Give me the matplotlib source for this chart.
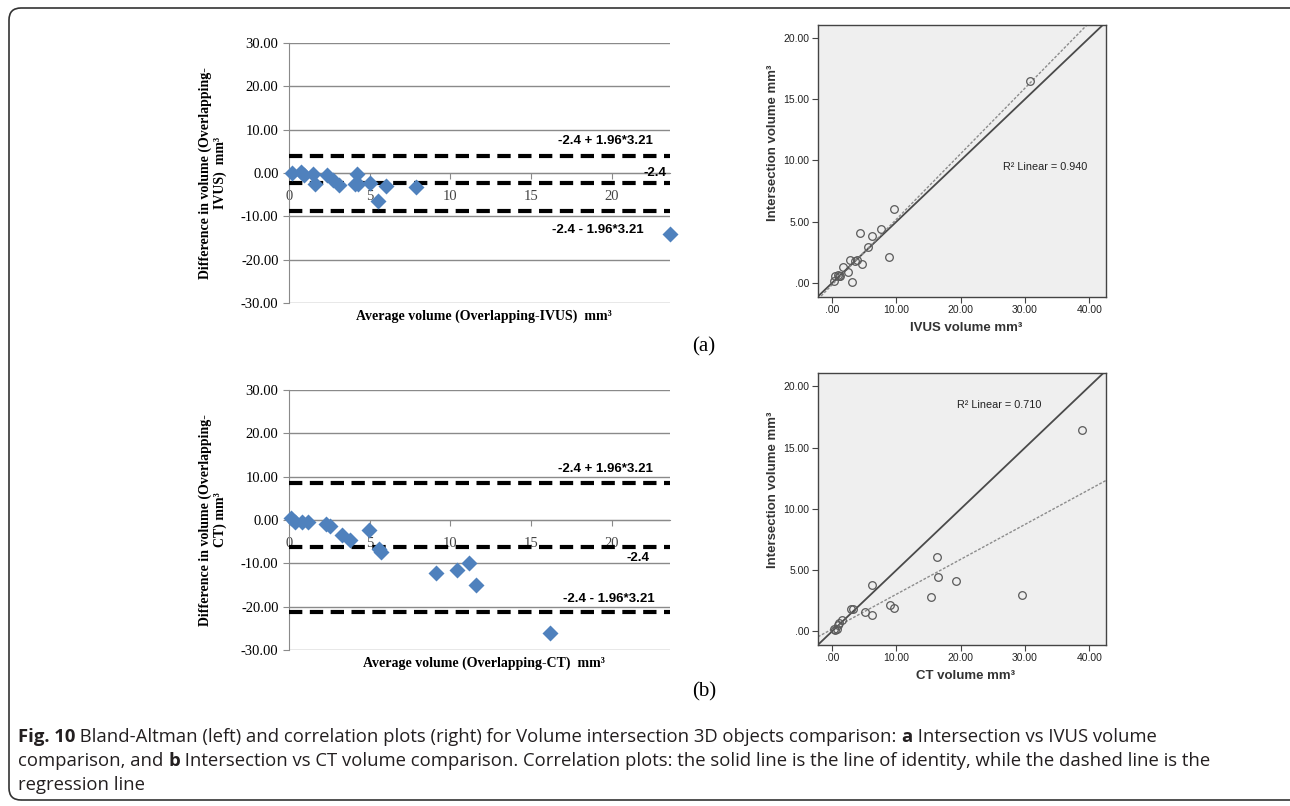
import matplotlib.pyplot as plt
from matplotlib.patches import FancyBboxPatch
from matplotlib.transforms import IdentityTransform

# ---- data ----
# Bland-Altman (a): Overlapping - IVUS
ivus_avg = [0.2, 0.76, 0.9, 1.5, 1.6, 2.35, 2.7, 3.1, 4.1, 4.2, 4.3, 5.0, 5.5, 6.0, 7.85, 23.6]
ivus_diff = [0.0, 0.15, -0.5, -0.15, -2.6, -0.5, -1.5, -2.8, -2.5, -0.15, -2.6, -2.2, -6.5, -3.0, -3.3, -14.1]
ivus_limits = [3.9, -2.4, -8.7]

# Bland-Altman (b): Overlapping - CT
ct_avg = [0.1, 0.35, 0.83, 1.18, 2.3, 2.55, 3.3, 3.75, 4.95, 5.55, 5.7, 9.1, 10.4, 11.15, 11.6, 16.15]
ct_diff = [0.4, -0.4, -0.5, -0.5, -0.9, -1.3, -3.4, -4.7, -2.2, -6.6, -7.3, -12.2, -11.6, -9.9, -14.9, -26.0]
ct_limits = [8.6, -6.3, -21.3]

limit_labels = ["-2.4 + 1.96*3.21", "-2.4", "-2.4 - 1.96*3.21"]
ba_yticks = [-30, -20, -10, 0, 10, 20, 30]
ba_xticks = [0, 5, 10, 15, 20]

# correlation (a): IVUS vs intersection
corr_ivus_x = [30.8, 9.64, 4.4, 7.67, 6.27, 5.6, 8.9, 2.85, 3.8, 3.5, 4.66, 1.66, 2.44, 0.9, 1.2, 0.5, 0.26, 3.1, 1.0]
corr_ivus_y = [16.46, 6.07, 4.08, 4.44, 3.81, 2.91, 2.12, 1.85, 1.85, 1.8, 1.55, 1.3, 0.9, 0.65, 0.54, 0.54, 0.19, 0.11, 0.6]
ivus_fit = (0.535, -0.15)
ivus_r2 = "R² Linear = 0.940"

# correlation (b): CT vs intersection
corr_ct_x = [38.9, 29.5, 16.37, 16.5, 19.27, 15.44, 6.17, 9.0, 9.64, 5.13, 6.17, 2.9, 3.3, 1.5, 1.09, 0.93, 0.26, 0.5, 0.78]
corr_ct_y = [16.43, 2.99, 6.07, 4.44, 4.08, 2.83, 3.81, 2.15, 1.88, 1.55, 1.31, 1.85, 1.82, 0.93, 0.65, 0.49, 0.19, 0.14, 0.16]
ct_fit = (0.285, 0.18)
ct_r2 = "R² Linear = 0.710"

identity_slope = 0.5
corr_xticks = [0, 10, 20, 30, 40]
corr_yticks = [0, 5, 10, 15, 20]

W, H = 1290, 806
fig = plt.figure(figsize=(W / 100, H / 100), dpi=100)

SERIF = "Liberation Serif"
SANS = "Liberation Sans"


def fbox(l, t, r, b):
    return [l / W, 1 - b / H, (r - l) / W, (b - t) / H]


def tick_fmt(v):
    return ".00" if v == 0 else f"{v:.2f}"


def bland_altman(rect, avg, diff, limits, label_pos, xlabel, ylabel, xlab_y, ylab_x):
    ax = fig.add_axes(rect)
    for s in ["top", "right"]:
        ax.spines[s].set_visible(False)
    ax.spines["bottom"].set_position(("data", 0))  # excel style: x axis crosses at 0
    ax.set_xlim(0, 23.6)
    ax.set_ylim(-30, 30)
    ax.set_yticks(ba_yticks)
    ax.set_yticklabels([f"{v:.2f}" for v in ba_yticks], family=SERIF, fontsize=10.5)
    ax.set_xticks(ba_xticks)
    ax.set_xticklabels([str(v) for v in ba_xticks], family=SERIF, fontsize=10.5, color="#444")
    for s in ["left", "bottom"]:
        ax.spines[s].set_color("#8a8a8a")
    ax.tick_params(axis="both", color="#8a8a8a", length=4, direction="out")
    ax.tick_params(axis="x", pad=8)
    ax.yaxis.grid(True, color="#8a8a8a", lw=1)
    ax.set_axisbelow(True)
    for v in limits:
        ax.axhline(v, color="black", lw=3, ls=(0, (3.2, 1.8)), zorder=3)
    ax.plot(avg, diff, "D", color="#4F81BD", ms=8, mec="none", clip_on=False, zorder=4)
    for txt, (x, y) in zip(limit_labels, label_pos):
        ax.text(x, y, txt, family=SANS, fontweight="bold", fontsize=9.5,
                ha="center", va="center", zorder=5)
    top = (1 - rect[1] - rect[3]) * H
    bot = (1 - rect[1]) * H
    fig.text(484 / W, 1 - xlab_y / H, xlabel, family=SERIF, fontweight="bold",
             fontsize=10, ha="center", va="center")
    fig.text(ylab_x / W, 1 - ((top + bot) / 2) / H, ylabel,
             family=SERIF, fontweight="bold", fontsize=10, rotation=90,
             ha="center", va="center", multialignment="center", linespacing=1.1)
    return ax


def correlation(rect, x, y, fit, r2, r2_pos, ylim, xlabel, xlab_y, ylab_y):
    ax = fig.add_axes(rect)
    ax.set_facecolor("#efefef")
    ax.set_xlim(-2.2, 42.6)
    ax.set_ylim(*ylim)
    xs = [-2.2, 42.6]
    ax.plot(xs, [identity_slope * v for v in xs], color="#4a4a4a", lw=1.3)
    ax.plot(xs, [fit[0] * v + fit[1] for v in xs], color="#8c8c8c", lw=1,
            ls=(0, (2, 1.2)))
    ax.plot(x, y, "o", mfc="none", mec="#5a5a5a", ms=5.5, mew=0.9, zorder=4)
    ax.set_xticks(corr_xticks)
    ax.set_xticklabels([tick_fmt(v) for v in corr_xticks], family=SANS, fontsize=7.5)
    ax.set_yticks(corr_yticks)
    ax.set_yticklabels([tick_fmt(v) for v in corr_yticks], family=SANS, fontsize=7.5)
    ax.tick_params(color="#444", labelcolor="#222", length=4, direction="out", pad=2)
    for s in ax.spines.values():
        s.set_color("#444")
        s.set_linewidth(1)
    ax.text(r2_pos[0], r2_pos[1], r2, family=SANS, fontsize=7.8, color="#222",
            ha="left", va="center")
    fig.text(966 / W, 1 - xlab_y / H, xlabel, family=SANS, fontweight="bold",
             fontsize=9.5, color="#333", ha="center", va="center")
    fig.text(773 / W, 1 - ylab_y / H, "Intersection volume mm³", family=SANS,
             fontweight="bold", fontsize=9.5, color="#333", rotation=90,
             ha="center", va="center")
    return ax


bland_altman(fbox(289, 43, 670, 303), ivus_avg, ivus_diff, ivus_limits,
             [(19.6, 7.4), (22.7, 0.0), (19.1, -13.2)],
             "Average volume (Overlapping-IVUS)  mm³",
             "Difference in volume (Overlapping-\nIVUS)  mm³", 316, 213)
bland_altman(fbox(289, 390, 670, 650), ct_avg, ct_diff, ct_limits,
             [(19.6, 11.8), (21.6, -8.8), (19.8, -18.2)],
             "Average volume (Overlapping-CT)  mm³",
             "Difference in volume (Overlapping-\nCT) mm³", 663, 213)

correlation(fbox(818, 25, 1106, 297), corr_ivus_x, corr_ivus_y, ivus_fit, ivus_r2,
            (26.6, 9.46), (-1.15, 21.05), "IVUS volume mm³", 328, 143)
correlation(fbox(818, 373, 1106, 645), corr_ct_x, corr_ct_y, ct_fit, ct_r2,
            (19.4, 18.5), (-1.12, 21.1), "CT volume mm³", 676, 490)

fig.text(704 / W, 1 - 347 / H, "(a)", family=SERIF, fontsize=15, ha="center", va="center")
fig.text(704 / W, 1 - 692 / H, "(b)", family=SERIF, fontsize=15, ha="center", va="center")

# caption with mixed bold/regular runs
caption = [
    [("Fig. 10", "bold"), (" Bland-Altman (left) and correlation plots (right) for Volume intersection 3D objects comparison: ", "normal"),
     ("a", "bold"), (" Intersection vs IVUS volume", "normal")],
    [("comparison, and ", "normal"), ("b", "bold"),
     (" Intersection vs CT volume comparison. Correlation plots: the solid line is the line of identity, while the dashed line is the", "normal")],
    [("regression line", "normal")],
]
baselines = [742, 766, 790]
renderer = fig.canvas.get_renderer()
for runs, base in zip(caption, baselines):
    x = 18
    for txt, wt in runs:
        t = fig.text(x / W, 1 - base / H, txt, family="Open Sans",
                     fontweight=wt, fontsize=13.3, color="#231f20", ha="left", va="baseline")
        x += t.get_window_extent(renderer).width

# rounded frame around the whole figure
frame = FancyBboxPatch((9, 6), 1300, 792, boxstyle="round,pad=0,rounding_size=12",
                       transform=IdentityTransform(), fill=False, ec="#333", lw=1.2)
fig.patches.append(frame)

fig.savefig("out.png", dpi=100)
